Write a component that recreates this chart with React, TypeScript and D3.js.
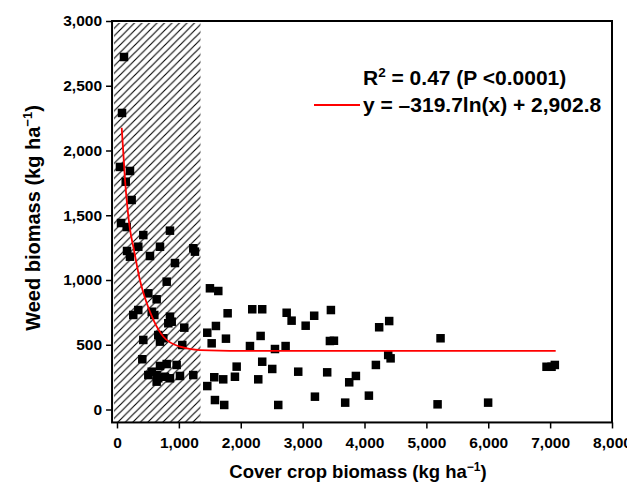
import React, { useEffect, useRef } from 'react';
import * as d3 from 'd3';

// cover crop biomass (kg/ha) vs weed biomass (kg/ha)
const coverBiomass = [
    113, 81, 48, 210, 141, 237, 65, 157, 425, 856, 344, 695, 210, 162, 533, 1233, 1260, 937,
    803, 506, 641, 344, 263, 561, 603, 856, 884, 829, 1087, 425, 667, 748, 695, 1055,
    409, 695, 803, 964, 561, 506, 641, 667, 775, 856, 1018, 1233, 641,
    1502, 1637, 1788, 1599, 1459, 1530, 1761, 2186, 2347, 2321, 2149, 1934, 2347, 2509, 2553,
    2725, 2742, 2822, 3187, 3049, 1572, 1717, 1906, 1459, 2283, 2929, 1583, 1733, 2606, 3199,
    3457, 3441, 3506, 4237, 4399, 5229, 4383, 4422, 4184, 3397, 3861, 3753, 3688, 4071, 5181,
    5998, 6942, 7023, 7076
];
const weedBiomass = [
    2722, 2290, 1873, 1842, 1759, 1618, 1440, 1409, 1347, 1381, 1257, 1257, 1180, 1224, 1185, 1245, 1219, 1131,
    987, 897, 851, 768, 730, 755, 730, 717, 678, 666, 632, 537, 575, 550, 524, 498,
    388, 336, 351, 344, 292, 266, 266, 241, 253, 241, 259, 266, 215,
    936, 915, 743, 645, 593, 511, 547, 774, 774, 568, 490, 331, 369, 313, 467,
    490, 747, 686, 724, 647, 249, 233, 253, 181, 233, 292, 73, 35, 35, 99,
    768, 529, 531, 635, 683, 550, 421, 395, 344, 287, 259, 210, 53, 107, 40,
    53, 330, 330, 344
];

// fitted curve as drawn in the figure
const fitX = [76, 130, 210, 265, 370, 480, 590, 750, 1020, 1340, 2000, 3300, 7090];
const fitY = [2176, 1770, 1390, 1255, 1000, 822, 690, 562, 485, 459, 453, 452, 452];

const xTicks = [0, 1000, 2000, 3000, 4000, 5000, 6000, 7000, 8000];
const yTicks = [0, 500, 1000, 1500, 2000, 2500, 3000];
const hatchLimit = 1350;

const width = 635;
const height = 490;
const font = "'Liberation Sans', Arial, sans-serif";

function App() {
    const ref = useRef(null);

    useEffect(() => {
        const svg = d3.select(ref.current);
        svg.selectAll('*').remove();

        const x = d3.scaleLinear().domain([0, 8000]).range([117, 612]);
        const y = d3.scaleLinear().domain([0, 3000]).range([409.5, 21]);
        const left = x(-80), right = x(8000), top = y(3000), bottom = y(-100);

        const defs = svg.append('defs');
        defs.append('pattern')
            .attr('id', 'hatch')
            .attr('patternUnits', 'userSpaceOnUse')
            .attr('width', 7.5)
            .attr('height', 7.5)
            .append('path')
            .attr('d', 'M-1,1 l2,-2 M0,7.5 l7.5,-7.5 M6.5,8.5 l2,-2')
            .attr('stroke', '#000')
            .attr('stroke-width', 1.1);

        svg.append('rect')
            .attr('x', left + 2)
            .attr('y', top + 2)
            .attr('width', x(hatchLimit) - left - 2)
            .attr('height', bottom - top - 2)
            .attr('fill', 'url(#hatch)');

        // points
        svg.append('g')
            .selectAll('rect')
            .data(coverBiomass.map((c, i) => [c, weedBiomass[i]]))
            .enter()
            .append('rect')
            .attr('x', d => x(d[0]) - 4.25)
            .attr('y', d => y(d[1]) - 4.25)
            .attr('width', 8.5)
            .attr('height', 8.5)
            .attr('fill', '#000');

        const line = d3.line()
            .x(d => x(d[0]))
            .y(d => y(d[1]))
            .curve(d3.curveMonotoneX);

        svg.append('path')
            .datum(fitX.map((v, i) => [v, fitY[i]]))
            .attr('d', line)
            .attr('fill', 'none')
            .attr('stroke', '#ff0000')
            .attr('stroke-width', 1.8);

        // frame
        svg.append('rect')
            .attr('x', left)
            .attr('y', top)
            .attr('width', right - left)
            .attr('height', bottom - top)
            .attr('fill', 'none')
            .attr('stroke', '#000')
            .attr('stroke-width', 2);

        const xAxis = d3.axisBottom(x).tickValues(xTicks).tickFormat(d3.format(',')).tickSize(6).tickSizeOuter(0);
        const yAxis = d3.axisLeft(y).tickValues(yTicks).tickFormat(d3.format(',')).tickSize(6).tickSizeOuter(0);

        const gx = svg.append('g')
            .attr('transform', `translate(0,${bottom})`)
            .call(xAxis);
        const gy = svg.append('g')
            .attr('transform', `translate(${left},0)`)
            .call(yAxis);

        [gx, gy].forEach(g => {
            g.select('.domain').remove();
            g.selectAll('line').attr('stroke', '#000').attr('stroke-width', 1.5);
            g.selectAll('text')
                .attr('font-family', font)
                .attr('font-weight', 'bold')
                .attr('font-size', 15.5)
                .attr('fill', '#000');
        });
        gx.selectAll('text').attr('dy', '1.05em');
        gy.selectAll('text').attr('x', -10);

        const title = (g, text, size) => {
            g.attr('font-family', font)
                .attr('font-weight', 'bold')
                .attr('font-size', size)
                .attr('text-anchor', 'middle');
            g.append('tspan').text(text);
            g.append('tspan').attr('dy', -size * 0.4).attr('font-size', size * 0.65).text('\u22121');
            g.append('tspan').attr('dy', size * 0.4).text(')');
        };

        svg.append('text')
            .attr('x', 358)
            .attr('y', 478)
            .call(title, 'Cover crop biomass (kg ha', 18.5);

        svg.append('text')
            .attr('transform', 'translate(40,218) rotate(-90)')
            .call(title, 'Weed biomass (kg ha', 20);

        // legend
        const legend = svg.append('g')
            .attr('font-family', font)
            .attr('font-weight', 'bold')
            .attr('font-size', 21);

        const r2 = legend.append('text').attr('x', 363).attr('y', 85);
        r2.append('tspan').text('R');
        r2.append('tspan').attr('dy', -8).attr('font-size', 13.5).text('2');
        r2.append('tspan').attr('dy', 8).text(' = 0.47 (P <0.0001)');

        legend.append('line')
            .attr('x1', 314).attr('x2', 360)
            .attr('y1', 105).attr('y2', 105)
            .attr('stroke', '#ff0000')
            .attr('stroke-width', 1.8);

        legend.append('text')
            .attr('x', 363)
            .attr('y', 112)
            .text('y = \u2013319.7ln(x) + 2,902.8');
    }, []);

    return (
        <svg ref={ref} width={width} height={height} style={{ display: 'block', margin: '-8px', background: '#fff' }} />
    );
}

export default App;
